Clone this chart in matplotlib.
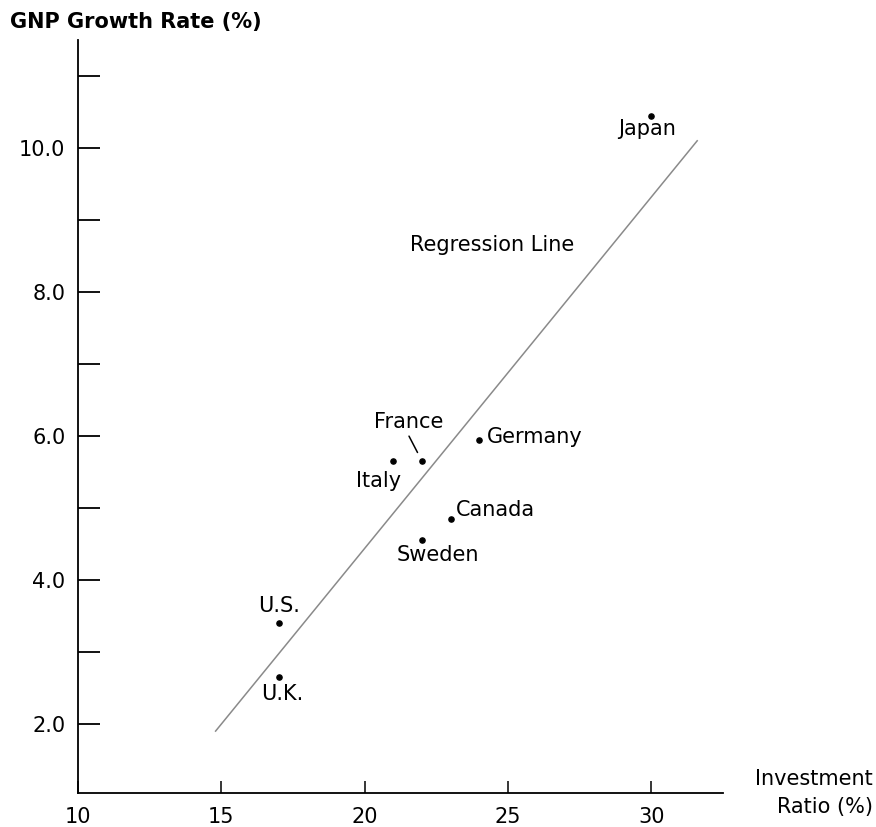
import matplotlib
matplotlib.use('Agg')
import matplotlib.pyplot as plt

# Countries: investment ratio (%) vs GNP growth rate (%)
countries = ['Japan', 'Germany', 'France', 'Italy', 'Canada', 'Sweden', 'U.S.', 'U.K.']
invest = [30, 24, 22, 21, 23, 22, 17, 17]
growth = [10.45, 5.95, 5.65, 5.65, 4.85, 4.55, 3.4, 2.65]

# Regression line end points
reg_x = [14.8, 31.6]
reg_y = [1.9, 10.1]

x_ticks = [10, 15, 20, 25, 30]
y_major = [2, 4, 6, 8, 10]
y_minor = [3, 5, 7, 9, 11]

# label offsets in pixels (dx, dy, ha)
label_pos = {
    'Japan': (-4, -13, 'center'),
    'Germany': (8, 3, 'left'),
    'France': (-13, 39, 'center'),
    'Italy': (-15, -20, 'center'),
    'Canada': (5, 9, 'left'),
    'Sweden': (16, -15, 'center'),
    'U.S.': (0, 17, 'center'),
    'U.K.': (4, -17, 'center'),
}

fs = 15

fig = plt.figure(figsize=(8.76, 8.27), dpi=100)
ax = fig.add_axes([78 / 876, 1 - 793 / 827, (723 - 78) / 876, (793 - 40) / 827])

ax.set_xlim(10, 32.5)
ax.set_ylim(1.04, 11.5)

for s in ['top', 'right']:
    ax.spines[s].set_visible(False)
for s in ['left', 'bottom']:
    ax.spines[s].set_linewidth(1.3)

# regression line
ax.plot(reg_x, reg_y, color='#8a8a8a', lw=1.1)

# points
ax.scatter(invest, growth, s=14, color='black', zorder=3)

for name, x, y in zip(countries, invest, growth):
    dx, dy, ha = label_pos[name]
    ax.annotate(name, (x, y), xytext=(dx, dy), textcoords='offset pixels',
                ha=ha, va='center', fontsize=fs)

# leader line for France
ax.annotate('', xy=(22, 5.65), xytext=(-13, 25), textcoords='offset pixels',
            arrowprops=dict(arrowstyle='-', color='black', lw=1.1,
                            shrinkA=0, shrinkB=7))

ax.text(24.45, 8.65, 'Regression Line', ha='center', va='center', fontsize=fs)

# ticks
ax.set_yticks(y_major)
ax.set_yticklabels([f'{v:.1f}' for v in y_major])
ax.set_yticks(y_minor, minor=True)
ax.set_xticks(x_ticks)
ax.set_xticklabels([str(v) for v in x_ticks])
ax.tick_params(axis='y', which='both', direction='in', length=16, width=1.3,
               pad=9, labelsize=fs)
ax.tick_params(axis='x', direction='in', length=8.5, width=1.1, pad=10,
               labelsize=fs)

fig.text(10 / 876, 1 - 22 / 827, 'GNP Growth Rate (%)', ha='left', va='center',
         fontsize=15, fontweight='bold')
fig.text(873 / 876, 1 - 793 / 827, 'Investment\nRatio (%)', ha='right',
         va='center', multialignment='right', fontsize=fs, linespacing=1.45)

fig.savefig('out.png', dpi=100)
